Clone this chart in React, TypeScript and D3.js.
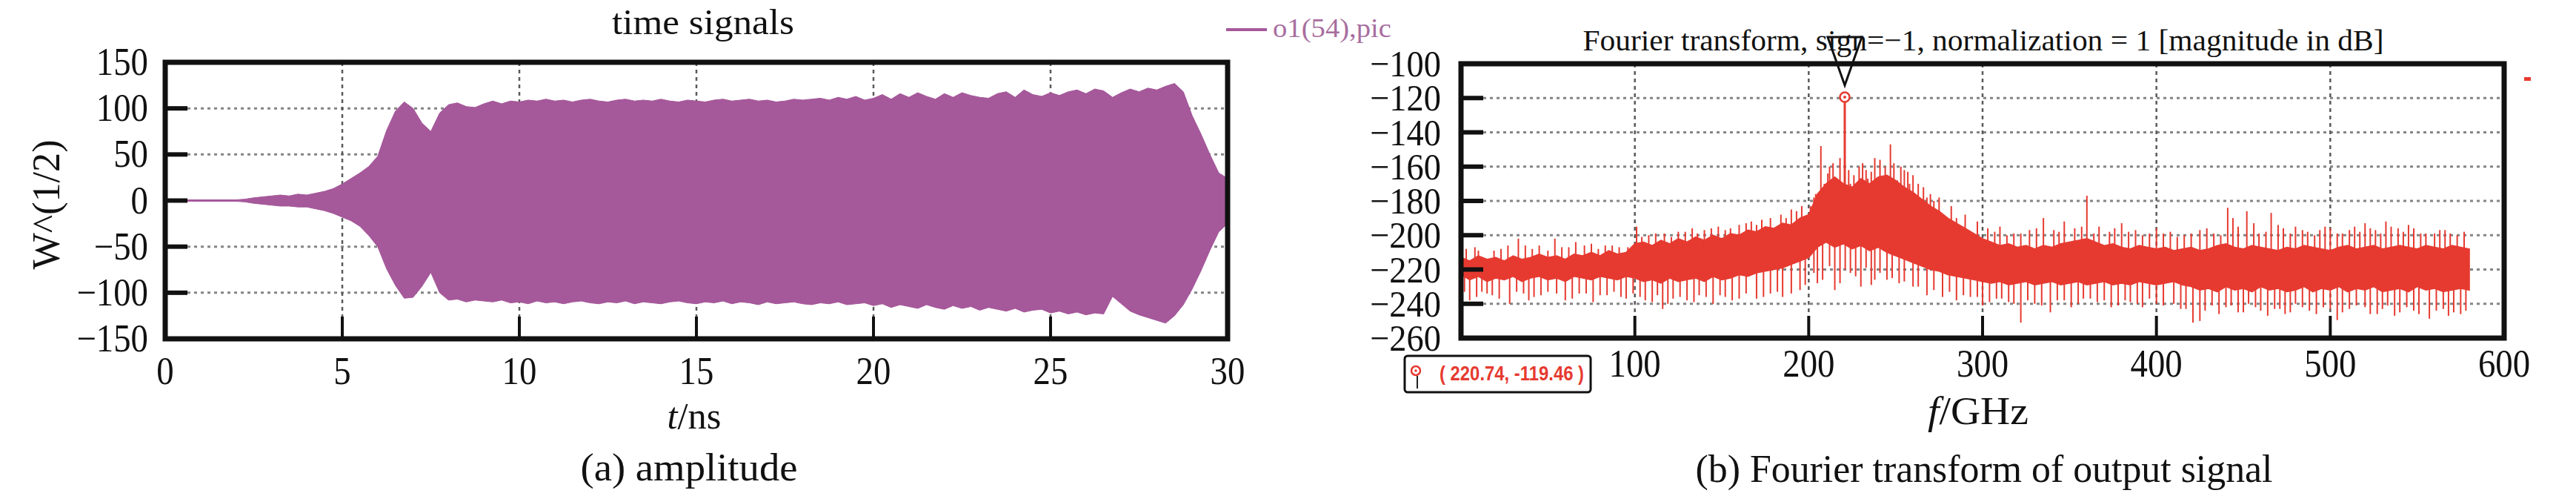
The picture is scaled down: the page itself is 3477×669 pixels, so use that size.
import React from 'react';
import * as d3 from 'd3';

// ---------- (a) time signal: envelope of the dense oscillation ----------
const timeNs: number[] = d3.range(0, 30.001, 0.25);
const envUpper: number[] = [
  0.8, 0.8, 0.8, 0.8, 0.8, 0.8, 0.8, 0.8, 0.8, 1.5, 3, 4, 5, 6, 5, 7, 6, 8, 10, 13,
  18, 24, 30, 37, 48, 76, 97, 107, 100, 84, 75, 95, 104, 106, 102, 101, 105, 108, 105, 108,
  107, 109, 108, 110, 108, 109, 107, 109, 110, 108, 107, 109, 110, 108, 109, 108, 110, 108, 107, 109,
  108, 107, 109, 110, 108, 109, 110, 108, 109, 107, 108, 110, 109, 110, 111, 109, 112, 110, 113, 109,
  111, 115, 110, 116, 112, 117, 113, 110, 116, 112, 117, 114, 112, 111, 116, 118, 112, 120, 115, 113,
  117, 114, 118, 120, 116, 121, 119, 112, 117, 121, 118, 122, 120, 124, 127, 118, 92, 72, 50, 30,
  24,
];
const envLower: number[] = [
  -0.8, -0.8, -0.8, -0.8, -0.8, -0.8, -0.8, -0.8, -0.8, -1.5, -3, -4, -5, -6, -6, -7, -7, -9, -11, -14,
  -18, -22, -28, -38, -50, -74, -92, -106, -105, -93, -78, -100, -108, -107, -110, -108, -109, -110, -108, -111,
  -110, -112, -109, -111, -110, -112, -110, -109, -111, -112, -110, -111, -109, -112, -110, -111, -112, -110, -109, -111,
  -112, -110, -111, -109, -112, -110, -111, -113, -110, -112, -111, -110, -112, -113, -111, -112, -110, -113, -112, -111,
  -114, -112, -116, -113, -115, -117, -113, -116, -118, -114, -117, -115, -119, -116, -118, -120, -117, -121, -119, -118,
  -122, -120, -123, -121, -124, -122, -123, -104, -112, -120, -124, -127, -130, -133, -125, -113, -96, -76, -54, -34,
  -25,
];

// ---------- (b) spectrum: band of the noisy spectrum + spikes ----------
const freqGHz: number[] = d3.range(0, 580.001, 5);
const specHigh: number[] = [
  -213, -215, -212, -214, -213, -215, -212, -214, -213, -211,
  -213, -212, -214, -211, -212, -210, -212, -209, -211, -210,
  -205, -204, -206, -203, -205, -202, -204, -201, -203, -200,
  -202, -199, -200, -197, -198, -195, -196, -193, -194, -190,
  -188, -176, -170, -166, -170, -172, -167, -170, -166, -165,
  -168, -172, -175, -179, -183, -186, -190, -193, -196, -199,
  -202, -204, -206, -205, -207, -206, -208, -206, -207, -205,
  -204, -203, -202, -204, -206, -205, -207, -208, -206, -207,
  -208, -207, -209, -208, -207, -209, -208, -206, -205, -207,
  -208, -206, -207, -208, -209, -207, -208, -206, -207, -208,
  -209, -207, -206, -208, -207, -206, -208, -207, -206, -207,
  -208, -206, -207, -208, -206, -207, -208,
];
const specLow: number[] = [
  -223, -226, -224, -227, -225, -226, -224, -227, -225, -224,
  -226, -225, -227, -224, -225, -226, -224, -225, -226, -224,
  -225, -227, -226, -228, -225, -227, -226, -225, -227, -224,
  -226, -225, -223, -224, -222, -221, -220, -219, -217, -215,
  -213, -207, -204, -207, -205, -208, -206, -209, -207, -210,
  -212, -214, -216, -218, -220, -221, -223, -224, -225, -226,
  -227, -228, -227, -229, -228, -227, -229, -228, -227, -229,
  -228, -227, -229, -228, -227, -229, -228, -229, -227, -228,
  -229, -228, -227, -229, -230, -232, -231, -233, -230, -232,
  -231, -233, -230, -232, -231, -233, -232, -230, -233, -231,
  -232, -230, -233, -231, -232, -230, -233, -232, -231, -233,
  -230, -232, -231, -233, -232, -231, -232,
];
const spikeUpF: number[] = [
  3, 8, 19, 27, 33, 41, 45, 54, 62, 66, 75, 83, 91, 101, 104, 108, 117, 125, 133, 140,
  148, 155, 160, 167, 173, 178, 184, 190, 196, 203, 207, 211, 214, 220.74, 226, 229, 233, 236, 241, 244,
  247, 253, 257, 260, 266, 270, 275, 282, 290, 297, 303, 310, 318, 327, 335, 341, 347, 353, 360, 367,
  373, 380, 388, 396, 400, 408, 416, 425, 433, 441, 447, 452, 459, 466, 473, 480, 487, 494, 500, 507,
  514, 520, 526, 532, 539, 545, 552, 560, 566, 573,
  201, 204, 209, 212, 216, 218, 223, 224, 231, 234, 238, 243, 249, 251, 255, 258, 263, 268, 272,
  10, 23, 37, 50, 58, 71, 79, 87, 96, 112, 121, 129, 136, 144, 152, 164, 170, 187, 193, 285,
  307, 314, 322, 331, 344, 357, 364, 376, 384, 392, 404, 412, 420, 429, 437, 444, 456, 463, 470, 477,
  484, 491, 497, 504, 511, 517, 523, 529, 535, 542, 548, 555, 563, 569, 577,
];
const spikeUpV: number[] = [
  -208, -207, -209, -206, -202, -208, -206, -202, -207, -204, -205, -206, -207, -195, -201, -200, -199, -198, -196, -197,
  -195, -196, -194, -192, -191, -190, -188, -185, -183, -178, -148, -164, -158, -119.46, -165, -160, -162, -163, -156, -160,
  -147, -160, -163, -165, -172, -176, -178, -183, -188, -192, -196, -195, -199, -197, -190, -197, -192, -196, -177, -195,
  -198, -193, -197, -199, -196, -198, -200, -197, -199, -184, -195, -186, -199, -187, -196, -195, -198, -197, -196, -199,
  -195, -193, -197, -192, -196, -194, -199, -199, -197, -200,
  -183, -176, -170, -160, -168, -155, -162, -170, -158, -167, -155, -166, -158, -168, -162, -170, -170, -178, -180,
  -209, -208, -206, -209, -207, -206, -208, -206, -207, -199, -201, -198, -199, -196, -197, -193, -194, -190, -186, -190,
  -198, -200, -199, -196, -198, -195, -199, -196, -198, -200, -199, -201, -199, -196, -200, -190, -193, -198, -194, -199,
  -197, -200, -195, -199, -197, -198, -196, -199, -195, -198, -196, -199, -197, -199, -198,
];
const spikeDownF: number[] = [
  5, 12, 18, 28, 36, 42, 50, 60, 68, 80, 88, 95, 103, 110, 116, 122, 130, 137, 145, 152,
  160, 170, 178, 185, 195, 205, 215, 224, 230, 238, 245, 252, 260, 268, 277, 285, 293, 300, 308, 315,
  322, 330, 339, 347, 355, 362, 370, 378, 385, 392, 400, 410, 417, 421, 425, 432, 440, 447, 453, 460,
  468, 474, 480, 488, 496, 504, 511, 520, 527, 533, 540, 548, 557, 565, 571, 575,
  203, 208, 212, 218, 221, 227, 233, 236, 241, 248, 255, 263, 272,
  2, 9, 15, 22, 32, 39, 46, 55, 64, 72, 76, 84, 92, 99, 106, 113, 119, 126, 134, 141,
  149, 156, 164, 174, 182, 190, 198, 281, 289, 297, 304, 311, 318, 326, 334, 343, 351, 358, 366, 374,
  382, 389, 396, 404, 414, 428, 436, 443, 450, 457, 464, 471, 477, 484, 492, 500, 507, 515, 523, 530,
  537, 544, 551, 561, 568, 578,
];
const spikeDownV: number[] = [
  -238, -233, -235, -240, -234, -236, -233, -238, -234, -235, -233, -237, -236, -239, -243, -237, -238, -235, -240, -236,
  -237, -237, -234, -236, -232, -228, -232, -222, -230, -226, -226, -228, -230, -235, -236, -238, -236, -241, -237, -239,
  -251, -240, -245, -238, -240, -237, -238, -241, -239, -242, -240, -240, -243, -251, -250, -241, -242, -245, -240, -244,
  -243, -246, -240, -244, -242, -249.5, -243, -242, -246, -241, -245, -244, -248.7, -243, -245, -246,
  -222, -226, -218, -228, -220, -224, -219, -229, -222, -225, -227, -230, -232,
  -233, -236, -234, -237, -233, -238, -235, -234, -237, -234, -239, -235, -236, -234, -238, -235, -240, -236, -239, -236,
  -235, -238, -234, -236, -233, -234, -229, -233, -235, -236, -239, -237, -240, -238, -241, -238, -242, -237, -239, -242,
  -238, -240, -237, -241, -243, -244, -246, -241, -245, -242, -247, -243, -245, -242, -246, -243, -245, -241, -246, -243,
  -247, -242, -246, -244, -247, -244,
];
const peakF = 220.74;
const peakV = -119.46;

// ---------- ticks ----------
const leftXTicks = [0, 5, 10, 15, 20, 25, 30];
const leftYTicks = [-150, -100, -50, 0, 50, 100, 150];
const rightXTicks = [100, 200, 300, 400, 500, 600];
const rightYTicks = [-260, -240, -220, -200, -180, -160, -140, -120, -100];

const SERIF = '"Liberation Serif", "Times New Roman", serif';
const SANS = '"Liberation Sans", Arial, sans-serif';
const PURPLE = '#a5589a';
const RED = '#e63a30';

const fmt = (v: number) => (v < 0 ? '\u2212' + Math.abs(v) : String(v));

function Txt(props: any) {
  const { x, y, size, anchor = 'middle', w, fill = '#111', family = SERIF, weight, sx = 1, children } = props;
  return (
    <g transform={`translate(${x},${y}) scale(${sx},1)`}>
      <text
        x={0}
        y={0}
        fontSize={size}
        textAnchor={anchor}
        fill={fill}
        fontFamily={family}
        fontWeight={weight}
        textLength={w}
        lengthAdjust={w ? 'spacingAndGlyphs' : undefined}
      >
        {children}
      </text>
    </g>
  );
}

export default function App() {
  const W = 3477;
  const H = 669;
  const xL = d3.scaleLinear().domain([0, 30]).range([223, 1657]);
  const yL = d3.scaleLinear().domain([-150, 150]).range([457, 84]);
  const xR = d3.scaleLinear().domain([0, 600]).range([1972, 3380]);
  const yR = d3.scaleLinear().domain([-260, -100]).range([456, 86]);

  const leftArea = d3
    .area<number>()
    .x((t) => xL(t))
    .y0((_, i) => yL(envLower[i]))
    .y1((_, i) => yL(envUpper[i]))(timeNs) as string;

  const rightArea = d3
    .area<number>()
    .x((f) => xR(f))
    .y0((_, i) => yR(specLow[i]))
    .y1((_, i) => yR(specHigh[i]))(freqGHz) as string;

  const bandAt = (f: number, arr: number[]) => {
    const i = Math.min(arr.length - 1, Math.max(0, Math.round(f / 5)));
    return arr[i];
  };
  const mid = (f: number) => (bandAt(f, specHigh) + bandAt(f, specLow)) / 2;

  const gridH = { stroke: '#858585', strokeWidth: 3, strokeDasharray: '4 5' };
  const gridV = { stroke: '#5a5a5a', strokeWidth: 2.5, strokeDasharray: '5 5' };
  const FR = 7;

  const px = xR(peakF);
  const py = yR(peakV);

  return (
    <svg
      width={W}
      height={H}
      viewBox={`0 0 ${W} ${H}`}
      style={{ position: 'absolute', left: 0, top: 0, display: 'block', background: '#fff' }}
    >
      <rect x={0} y={0} width={W} height={H} fill="#fff" />

      {/* ================= LEFT PANEL ================= */}
      {leftYTicks.filter((v) => v > -150 && v < 150).map((v) => (
        <line key={'lgh' + v} x1={xL(0) + 30} x2={xL(30)} y1={yL(v)} y2={yL(v)} {...gridH} />
      ))}
      {leftXTicks.filter((v) => v > 0 && v < 30).map((v) => (
        <line key={'lgv' + v} x1={xL(v)} x2={xL(v)} y1={yL(150)} y2={yL(-150) - 30} {...gridV} />
      ))}
      <path d={leftArea} fill={PURPLE} stroke={PURPLE} strokeWidth={1} />
      {leftYTicks.filter((v) => v > -150 && v < 150).map((v) => (
        <line key={'lty' + v} x1={xL(0)} x2={xL(0) + 30} y1={yL(v)} y2={yL(v)} stroke="#111" strokeWidth={6} />
      ))}
      {leftXTicks.filter((v) => v > 0 && v < 30).map((v) => (
        <line key={'ltx' + v} x1={xL(v)} x2={xL(v)} y1={yL(-150)} y2={yL(-150) - 30} stroke="#111" strokeWidth={4} />
      ))}
      <rect
        x={xL(0)}
        y={yL(150)}
        width={xL(30) - xL(0)}
        height={yL(-150) - yL(150)}
        fill="none"
        stroke="#111"
        strokeWidth={FR}
      />
      {leftYTicks.map((v) => (
        <Txt key={'lyl' + v} x={200} y={yL(v) + 17} size={52} anchor="end" sx={0.9}>
          {fmt(v)}
        </Txt>
      ))}
      {leftXTicks.map((v) => (
        <Txt key={'lxl' + v} x={xL(v)} y={518} size={52} sx={0.9}>
          {fmt(v)}
        </Txt>
      ))}
      <Txt x={949} y={46} size={48} w={246}>time signals</Txt>
      <g transform="translate(80,276) rotate(-90)">
        <text x={0} y={0} fontSize={52} textAnchor="middle" fontFamily={SERIF} fill="#111" textLength={175} lengthAdjust="spacingAndGlyphs">
          W^(1/2)
        </text>
      </g>
      <Txt x={937} y={578} size={50} w={73}>
        <tspan fontStyle="italic">t</tspan>/ns
      </Txt>
      <Txt x={930} y={648} size={52} w={293}>(a) amplitude</Txt>
      <line x1={1655} x2={1710} y1={40} y2={40} stroke={PURPLE} strokeWidth={4} />
      <Txt x={1718} y={50} size={35} anchor="start" w={160} fill="#a86ea0">o1(54),pic</Txt>

      {/* ================= RIGHT PANEL ================= */}
      {rightYTicks.filter((v) => v > -260 && v < -100).map((v) => (
        <line key={'rgh' + v} x1={xR(0) + 30} x2={xR(600)} y1={yR(v)} y2={yR(v)} {...gridH} />
      ))}
      {rightXTicks.filter((v) => v < 600).map((v) => (
        <line key={'rgv' + v} x1={xR(v)} x2={xR(v)} y1={yR(-100)} y2={yR(-260) - 30} {...gridV} />
      ))}
      <path d={rightArea} fill={RED} stroke={RED} strokeWidth={1.5} />
      {spikeUpF.map((f, i) => (
        <line
          key={'su' + i}
          x1={xR(f)}
          x2={xR(f)}
          y1={yR(mid(f))}
          y2={yR(spikeUpV[i])}
          stroke={RED}
          strokeWidth={f === peakF ? 3 : 2}
        />
      ))}
      {spikeDownF.map((f, i) => (
        <line key={'sd' + i} x1={xR(f)} x2={xR(f)} y1={yR(mid(f))} y2={yR(spikeDownV[i])} stroke={RED} strokeWidth={2} />
      ))}
      {rightYTicks.filter((v) => v > -260 && v < -100).map((v) => (
        <line key={'rty' + v} x1={xR(0)} x2={xR(0) + 30} y1={yR(v)} y2={yR(v)} stroke="#111" strokeWidth={6} />
      ))}
      {rightXTicks.filter((v) => v < 600).map((v) => (
        <line key={'rtx' + v} x1={xR(v)} x2={xR(v)} y1={yR(-260)} y2={yR(-260) - 30} stroke="#111" strokeWidth={4} />
      ))}
      <rect
        x={xR(0)}
        y={yR(-100)}
        width={xR(600) - xR(0)}
        height={yR(-260) - yR(-100)}
        fill="none"
        stroke="#111"
        strokeWidth={FR}
      />
      {rightYTicks.map((v) => (
        <Txt key={'ryl' + v} x={1945} y={yR(v) + 17} size={50} anchor="end" sx={0.93}>
          {fmt(v)}
        </Txt>
      ))}
      {rightXTicks.map((v) => (
        <Txt key={'rxl' + v} x={xR(v)} y={508} size={52} sx={0.9}>
          {fmt(v)}
        </Txt>
      ))}
      <Txt x={2677} y={68} size={41} w={1081}>
        Fourier transform, sign=−1, normalization = 1 [magnitude in dB]
      </Txt>
      <path
        d={`M${px - 23},${py - 81} L${px + 23},${py - 81} L${px},${py - 16} Z`}
        fill="none"
        stroke="#111"
        strokeWidth={3}
      />
      <circle cx={px} cy={py} r={6.5} fill="#fff" stroke={RED} strokeWidth={2.5} />
      <circle cx={px} cy={py} r={2} fill={RED} />
      <rect x={3407} y={104} width={9} height={5} fill={RED} />
      <rect x={1896} y={480} width={251} height={49} rx={4} fill="#fff" stroke="#111" strokeWidth={3} />
      <circle cx={1911} cy={500} r={6} fill="#fff" stroke={RED} strokeWidth={2.5} />
      <circle cx={1911} cy={500} r={1.8} fill={RED} />
      <line x1={1913} x2={1913} y1={507} y2={524} stroke="#222" strokeWidth={2} />
      <Txt x={1943} y={513} size={27} anchor="start" w={195} fill={RED} family={SANS} weight="bold">
        ( 220.74, -119.46 )
      </Txt>
      <Txt x={2670} y={572} size={52} w={136}>
        <tspan fontStyle="italic">f</tspan>/GHz
      </Txt>
      <Txt x={2678} y={650} size={52} w={779}>(b) Fourier transform of output signal</Txt>
    </svg>
  );
}
